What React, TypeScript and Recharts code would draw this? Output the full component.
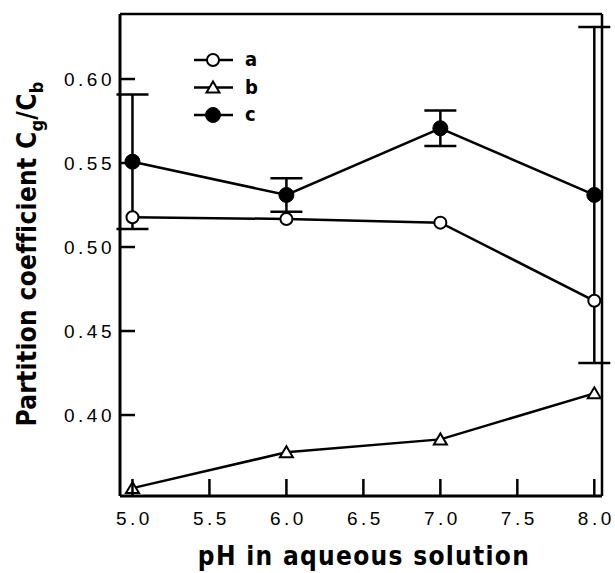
import React from "react"
import { ErrorBar, Legend, Line, LineChart, ReferenceLine, XAxis, YAxis } from "recharts"

const phValues = [5.0, 6.0, 7.0, 8.0]
const seriesA = [0.5177, 0.5167, 0.5145, 0.468]
const seriesB = [0.3565, 0.3778, 0.3855, 0.4129]
const seriesC = [0.5508, 0.531, 0.5707, 0.531]
const errorC = [0.04, 0.01, 0.0105, 0.1]
const xTicks = [5.0, 5.5, 6.0, 6.5, 7.0, 7.5, 8.0]
const yTicks = [0.4, 0.45, 0.5, 0.55, 0.6]
const legendNames = ["a", "b", "c"]

const xDomain = [4.919, 8.05]
const yDomain = [0.3518, 0.6387]

const data = phValues.map((ph, i) => ({
  ph,
  a: seriesA[i],
  b: seriesB[i],
  c: seriesC[i],
  cErr: errorC[i],
}))

const tickFont = "'Liberation Sans', Arial, sans-serif"
const titleFont = "'Liberation Sans Narrow', 'DejaVu Sans Condensed', 'Liberation Sans', sans-serif"

function YTick(props: any) {
  const { x, y, payload } = props
  return (
    <g>
      <line x1={x} x2={x + 15} y1={y} y2={y} stroke="#000" strokeWidth={2.5} />
      <text
        x={x - 5}
        y={y + 6.5}
        textAnchor="end"
        fontFamily={tickFont}
        fontSize={19}
        letterSpacing={3.5}
        fill="#000"
      >
        {Number(payload.value).toFixed(2)}
      </text>
    </g>
  )
}

function XTick(props: any) {
  const { x, y, payload } = props
  return (
    <g>
      <line x1={x} x2={x} y1={y} y2={y - 17} stroke="#000" strokeWidth={2.5} />
      <text
        x={x + 2}
        y={y + 29}
        textAnchor="middle"
        fontFamily={tickFont}
        fontSize={19}
        letterSpacing={3.5}
        fill="#000"
      >
        {Number(payload.value).toFixed(1)}
      </text>
    </g>
  )
}

function OpenCircle(props: any) {
  const { cx, cy } = props
  if (cx == null || cy == null) return null
  return <circle cx={cx} cy={cy} r={6} fill="#fff" stroke="#000" strokeWidth={2} />
}

function Triangle(props: any) {
  const { cx, cy } = props
  if (cx == null || cy == null) return null
  return (
    <path
      d={`M${cx},${cy - 6} L${cx + 6.5},${cy + 5} L${cx - 6.5},${cy + 5} Z`}
      fill="#fff"
      stroke="#000"
      strokeWidth={2}
    />
  )
}

function FilledCircle(props: any) {
  const { cx, cy } = props
  if (cx == null || cy == null) return null
  return <circle cx={cx} cy={cy} r={7.5} fill="#000" stroke="#000" strokeWidth={1} />
}

function legendMarker(name: string, cx: number, cy: number) {
  if (name === "a") return <OpenCircle cx={cx} cy={cy} />
  if (name === "b") return <Triangle cx={cx} cy={cy} />
  return <FilledCircle cx={cx} cy={cy} />
}

function LegendBox() {
  return (
    <svg width={80} height={85}>
      {legendNames.map((name, i) => {
        const cy = 15 + i * 27.5
        return (
          <g key={name}>
            <line x1={4} x2={43} y1={cy} y2={cy} stroke="#000" strokeWidth={2.5} />
            {legendMarker(name, 23, cy)}
            <text
              x={55}
              y={cy + 6}
              fontFamily={titleFont}
              fontWeight="bold"
              fontSize={20}
              fill="#000"
            >
              {name}
            </text>
          </g>
        )
      })}
    </svg>
  )
}

export default function App() {
  return (
    <div style={{ position: "absolute", left: 0, top: 0, background: "#fff" }}>
      <LineChart
        width={615}
        height={573}
        data={data}
        margin={{ top: 14, right: 13, bottom: 0, left: 0 }}
      >
        <XAxis
          dataKey="ph"
          type="number"
          domain={xDomain}
          ticks={xTicks}
          height={77}
          tickSize={0}
          tickMargin={0}
          tickLine={false}
          tick={<XTick />}
          axisLine={{ stroke: "#000", strokeWidth: 3 }}
          allowDataOverflow
        />
        <YAxis
          type="number"
          domain={yDomain}
          ticks={yTicks}
          width={120}
          tickSize={0}
          tickMargin={0}
          tickLine={false}
          tick={<YTick />}
          axisLine={{ stroke: "#000", strokeWidth: 3 }}
          allowDataOverflow
        />
        <ReferenceLine y={yDomain[1]} stroke="#000" strokeWidth={2.5} ifOverflow="visible" />
        <ReferenceLine x={xDomain[1]} stroke="#000" strokeWidth={2.5} ifOverflow="visible" />
        <Legend
          layout="horizontal"
          verticalAlign="middle"
          content={<LegendBox />}
          wrapperStyle={{ left: 190, top: 45, width: 80, height: 85 }}
        />
        <Line
          dataKey="a"
          stroke="#000"
          strokeWidth={2.5}
          dot={<OpenCircle />}
          activeDot={false}
          isAnimationActive={false}
        />
        <Line
          dataKey="b"
          stroke="#000"
          strokeWidth={2.5}
          dot={<Triangle />}
          activeDot={false}
          isAnimationActive={false}
        />
        <Line
          dataKey="c"
          stroke="#000"
          strokeWidth={2.5}
          dot={<FilledCircle />}
          activeDot={false}
          isAnimationActive={false}
        >
          <ErrorBar dataKey="cErr" width={16} strokeWidth={2.5} stroke="#000" direction="y" />
        </Line>
        <text
          x={36}
          y={254}
          transform="rotate(-90, 36, 254)"
          textAnchor="middle"
          fontFamily={titleFont}
          fontWeight="bold"
          fontSize={26}
          letterSpacing={0.3}
          fill="#000"
        >
          Partition coefficient C
          <tspan dy={7} fontSize={18}>g</tspan>
          <tspan dy={-7}>/C</tspan>
          <tspan dy={7} fontSize={18}>b</tspan>
        </text>
        <text
          x={364}
          y={565}
          textAnchor="middle"
          fontFamily={titleFont}
          fontWeight="bold"
          fontSize={26}
          letterSpacing={1.3}
          fill="#000"
        >
          pH in aqueous solution
        </text>
      </LineChart>
    </div>
  )
}
